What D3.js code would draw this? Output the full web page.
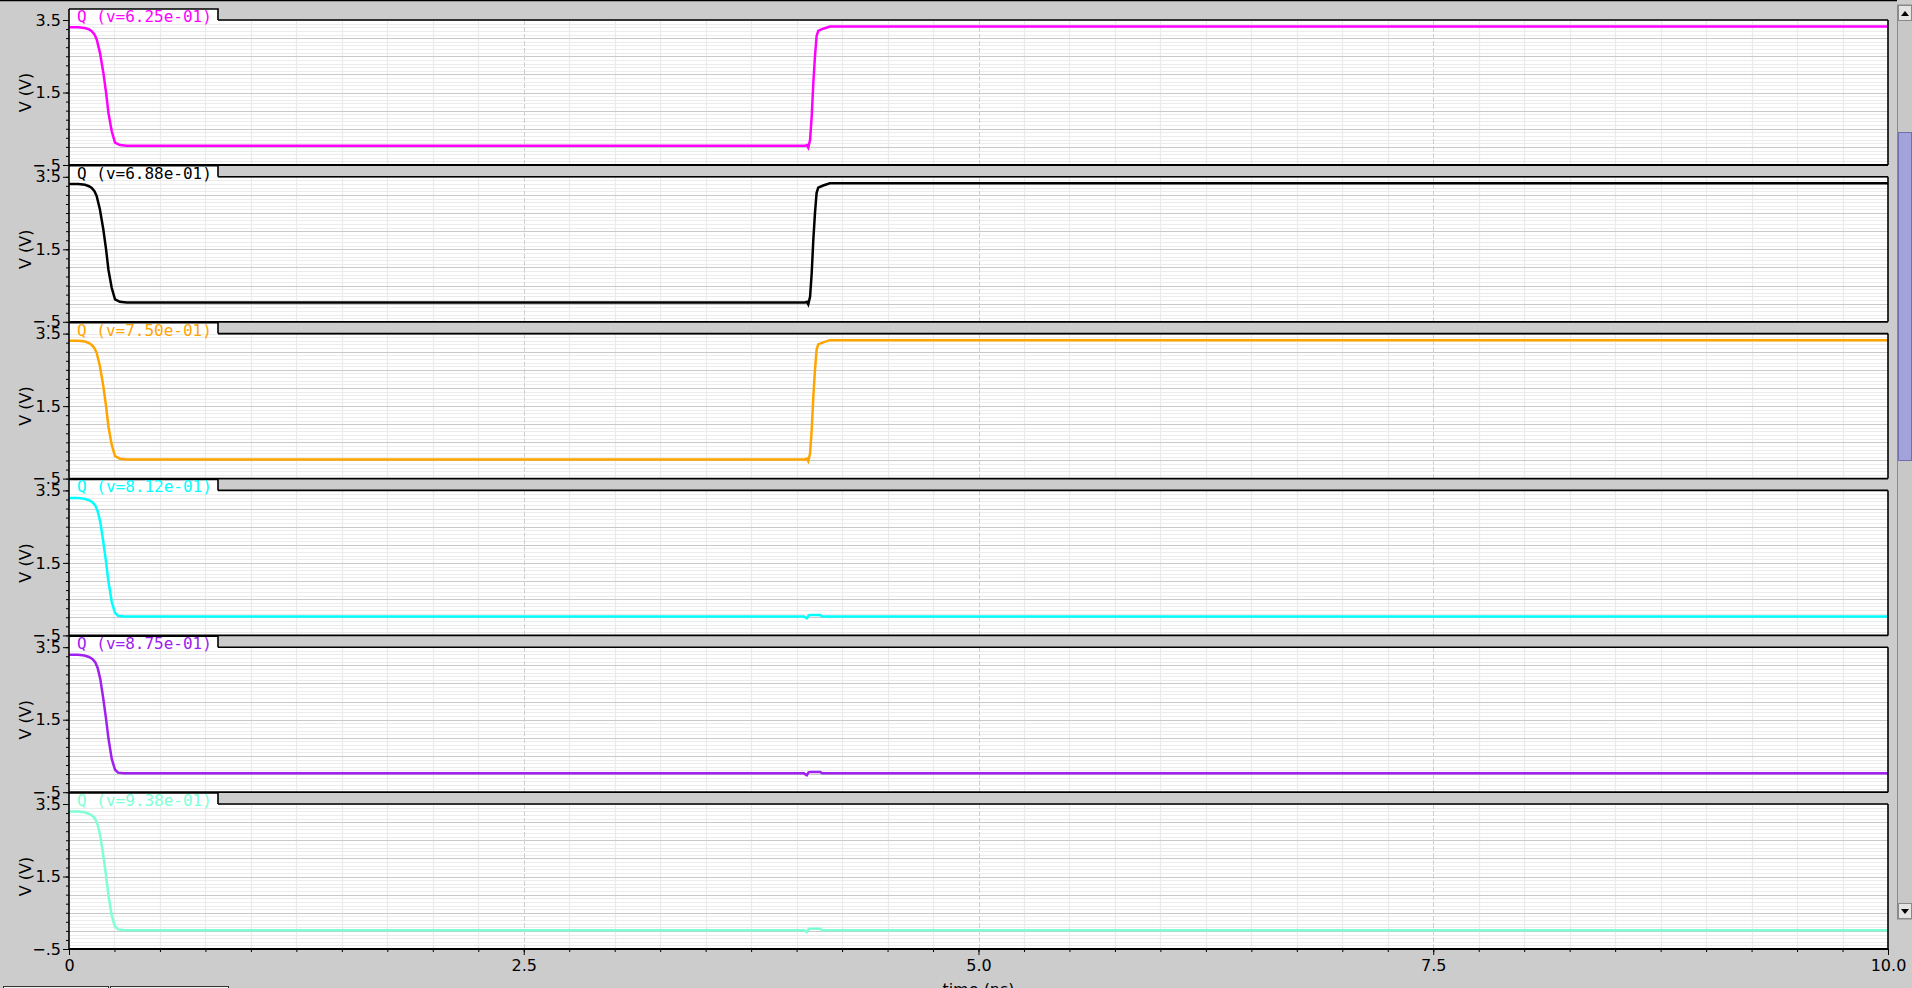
<!DOCTYPE html>
<html>
<head>
<meta charset="utf-8">
<script src="https://cdn.jsdelivr.net/npm/d3@7"></script>
<style>
  body { margin: 0; background: #cccccc; overflow: hidden; }
  svg { display: block; }
</style>
</head>
<body>
<svg></svg>
<script>

// swept parameter shown in each panel tab
let sweep = ['6.25e-01', '6.88e-01', '7.50e-01', '8.12e-01', '8.75e-01', '9.38e-01'];
let traceColors = ['#ff00ff', '#000000', '#ffa500', '#00ffff', '#a020f0', '#7fffd4'];
let shapes = ['flip', 'flip', 'flip', 'hold', 'hold', 'hold'];

// Q waveform that falls and comes back high (time ns, volts)
let tFlip = [0, 0.05, 0.088, 0.11, 0.125, 0.14, 0.152, 0.17, 0.189, 0.204, 0.217, 0.235, 0.253, 0.28, 0.317,
             4.046, 4.056, 4.064, 4.074, 4.083, 4.092, 4.101, 4.11, 4.119, 4.146, 4.183, 10];
let vFlip = [3.30, 3.30, 3.28, 3.24, 3.19, 3.10, 2.97, 2.60, 2.04, 1.49, 0.93, 0.43, 0.12, 0.05, 0.03,
             0.03, 0.05, -0.02, 0.19, 0.84, 1.77, 2.50, 3.06, 3.20, 3.26, 3.32, 3.32];

// Q waveform that falls and stays low, with a small glitch near 4 ns
let tHold = [0, 0.05, 0.085, 0.11, 0.13, 0.145, 0.158, 0.172, 0.188, 0.203, 0.217, 0.235, 0.253, 0.27, 0.3,
             4.04, 4.056, 4.066, 4.075, 4.13, 4.14, 10];
let vHold = [3.29, 3.29, 3.27, 3.23, 3.17, 3.08, 2.92, 2.62, 2.10, 1.55, 0.98, 0.42, 0.12, 0.04, 0.02,
             0.02, -0.03, 0.05, 0.06, 0.06, 0.02, 0.02];

let xTicks = [0, 2.5, 5.0, 7.5, 10.0];
let xTickLabels = ['0', '2.5', '5.0', '7.5', '10.0'];
let yTicks = [3.5, 1.5, -0.5];
let yTickLabels = ['3.5', '1.5', '\u2212.5'];

let svgWidth = 1912, svgHeight = 988;
let left = 69, right = 1888, firstTop = 9, step = 156.8, tabH = 11, tabW = 149;

let svg = d3.select('svg')
            .attr('width', svgWidth)
            .attr('height', svgHeight)

let x = d3.scaleLinear().domain([0, 10]).range([left, right]);

let line = d3.line();

// window top border
svg.append('line').attr('x1', 0).attr('x2', 1897).attr('y1', 0.5).attr('y2', 0.5)
   .attr('stroke', '#000').attr('stroke-width', 1.5);

sweep.forEach((val, i) => {
    let tabTop = firstTop + i * step;
    let top = tabTop + tabH;
    let bottom = tabTop + 156;
    let y = d3.scaleLinear().domain([-0.5, 3.5]).range([bottom, top]);

    let g = svg.append('g');

    g.append('rect')
     .attr('x', left).attr('y', top)
     .attr('width', right - left).attr('height', bottom - top)
     .attr('fill', '#fff');

    let clipId = 'clip' + i;
    g.append('clipPath').attr('id', clipId)
     .append('rect').attr('x', left).attr('y', top)
     .attr('width', right - left).attr('height', bottom - top);

    let grid = g.append('g').attr('clip-path', 'url(#' + clipId + ')');

    // minor horizontal grid every 0.1 V
    grid.selectAll('.hmin')
        .data(d3.range(-5, 36).map(k => k / 10).filter(v => Math.abs(v * 2 - Math.round(v * 2)) > 1e-6))
        .enter().append('line')
        .attr('x1', left).attr('x2', right)
        .attr('y1', d => Math.round(y(d)) + 0.5).attr('y2', d => Math.round(y(d)) + 0.5)
        .attr('stroke', '#ececec');

    // minor vertical grid every 0.25 ns
    grid.selectAll('.vmin')
        .data(d3.range(1, 40).map(k => k / 4).filter(t => t % 2.5 !== 0))
        .enter().append('line')
        .attr('x1', d => Math.round(x(d)) + 0.5).attr('x2', d => Math.round(x(d)) + 0.5)
        .attr('y1', top).attr('y2', bottom)
        .attr('stroke', '#ebebeb').attr('stroke-width', 1.2);

    // major horizontal grid every 0.5 V
    grid.selectAll('.hmaj')
        .data(d3.range(0, 8).map(k => k / 2))
        .enter().append('line')
        .attr('x1', left).attr('x2', right)
        .attr('y1', d => Math.round(y(d)) + 0.5).attr('y2', d => Math.round(y(d)) + 0.5)
        .attr('stroke', '#c9c9c9');

    // dashed major vertical grid
    grid.selectAll('.vmaj')
        .data([2.5, 5.0, 7.5])
        .enter().append('line')
        .attr('x1', d => Math.round(x(d)) + 0.5).attr('x2', d => Math.round(x(d)) + 0.5)
        .attr('y1', top).attr('y2', bottom)
        .attr('stroke', '#d0d0d0').attr('stroke-width', 1)
        .attr('stroke-dasharray', '5,2');

    // trace
    let ts = shapes[i] === 'flip' ? tFlip : tHold;
    let vs = shapes[i] === 'flip' ? vFlip : vHold;
    grid.append('path')
        .attr('d', line(ts.map((t, k) => [x(t), y(vs[k])])))
        .attr('fill', 'none')
        .attr('stroke', traceColors[i])
        .attr('stroke-width', 2.5);

    // frame
    g.append('line').attr('x1', left + tabW).attr('x2', right)
     .attr('y1', top).attr('y2', top).attr('stroke', '#000').attr('stroke-width', 1.6);
    g.append('line').attr('x1', right).attr('x2', right)
     .attr('y1', top).attr('y2', bottom).attr('stroke', '#000').attr('stroke-width', 1.6);
    g.append('line').attr('x1', left).attr('x2', right)
     .attr('y1', bottom).attr('y2', bottom).attr('stroke', '#000').attr('stroke-width', 1.8);

    // tab with the trace name
    g.append('rect')
     .attr('x', left).attr('y', tabTop)
     .attr('width', tabW).attr('height', tabH + 1)
     .attr('fill', '#fff');
    g.append('path')
     .attr('d', 'M' + left + ',' + tabTop + 'H' + (left + tabW) + 'V' + top)
     .attr('fill', 'none').attr('stroke', '#000').attr('stroke-width', 1.6);
    g.append('text')
     .attr('x', left + 8).attr('y', tabTop + 13)
     .attr('font-family', 'DejaVu Sans Mono')
     .attr('font-size', 16)
     .attr('fill', traceColors[i])
     .text('Q (v=' + val + ')');

    // y axis
    let yMinor = d3.axisLeft(y)
                   .tickValues(d3.range(-2, 15).map(k => k / 4))
                   .tickSize(3).tickFormat('');
    g.append('g').attr('transform', 'translate(' + left + ',0)').call(yMinor)
     .call(a => a.select('.domain').remove())
     .selectAll('line').attr('stroke', '#000');

    let yAxis = d3.axisLeft(y)
                  .tickValues(yTicks)
                  .tickSize(6).tickPadding(2)
                  .tickFormat((d, k) => yTickLabels[k]);
    g.append('g').attr('transform', 'translate(' + left + ',0)').call(yAxis)
     .call(a => a.select('.domain').remove())
     .call(a => a.selectAll('line').attr('stroke', '#000'))
     .call(a => a.selectAll('text')
                 .attr('font-family', 'DejaVu Sans')
                 .attr('font-size', 16)
                 .attr('fill', '#000'));

    g.append('line').attr('x1', left).attr('x2', left)
     .attr('y1', tabTop).attr('y2', bottom).attr('stroke', '#000').attr('stroke-width', 1.6);

    g.append('text')
     .attr('transform', 'translate(31,' + ((top + bottom) / 2) + ') rotate(-90)')
     .attr('text-anchor', 'middle')
     .attr('font-family', 'DejaVu Sans')
     .attr('font-size', 16)
     .text('V (V)');

    if (i === sweep.length - 1) {
        let xMinor = d3.axisBottom(x)
                       .tickValues(d3.range(0, 41).map(k => k / 4))
                       .tickSize(3).tickFormat('');
        svg.append('g').attr('transform', 'translate(0,' + bottom + ')').call(xMinor)
           .call(a => a.select('.domain').remove())
           .selectAll('line').attr('stroke', '#000');

        let xAxis = d3.axisBottom(x)
                      .tickValues(xTicks)
                      .tickSize(6).tickPadding(5)
                      .tickFormat((d, k) => xTickLabels[k]);
        svg.append('g').attr('transform', 'translate(0,' + bottom + ')').call(xAxis)
           .call(a => a.select('.domain').remove())
           .call(a => a.selectAll('line').attr('stroke', '#000'))
           .call(a => a.selectAll('text')
                       .attr('font-family', 'DejaVu Sans')
                       .attr('font-size', 16)
                       .attr('fill', '#000'));

        svg.append('text')
           .attr('x', (left + right) / 2).attr('y', bottom + 46)
           .attr('text-anchor', 'middle')
           .attr('font-family', 'DejaVu Sans')
           .attr('font-size', 16)
           .text('time (ns)');
    }
});

// scrollbar at the right edge
let sb = svg.append('g');
sb.append('rect').attr('x', 1897.5).attr('y', 5).attr('width', 15).attr('height', 914)
  .attr('fill', '#c8c8c8').attr('stroke', '#8a8a8a');
sb.append('rect').attr('x', 1898.5).attr('y', 5.5).attr('width', 13).attr('height', 15)
  .attr('fill', '#e4e4e4').attr('stroke', '#8a8a8a');
sb.append('path').attr('d', 'M1901,16 L1905,11 L1909,16 Z').attr('fill', '#000');
sb.append('rect').attr('x', 1898.5).attr('y', 903.5).attr('width', 13).attr('height', 15)
  .attr('fill', '#e4e4e4').attr('stroke', '#8a8a8a');
sb.append('path').attr('d', 'M1901,909 L1909,909 L1905,914 Z').attr('fill', '#000');
sb.append('rect').attr('x', 1898.5).attr('y', 132.5).attr('width', 13).attr('height', 328)
  .attr('fill', '#a3a3dc').attr('stroke', '#7070b0');

// buttons peeking in at the bottom edge
svg.append('rect').attr('x', 3.5).attr('y', 986.5).attr('width', 105).attr('height', 10)
   .attr('fill', '#f0f0f0').attr('stroke', '#333');
svg.append('rect').attr('x', 110.5).attr('y', 986.5).attr('width', 118).attr('height', 10)
   .attr('fill', '#f0f0f0').attr('stroke', '#333');

</script>
</body>
</html>
